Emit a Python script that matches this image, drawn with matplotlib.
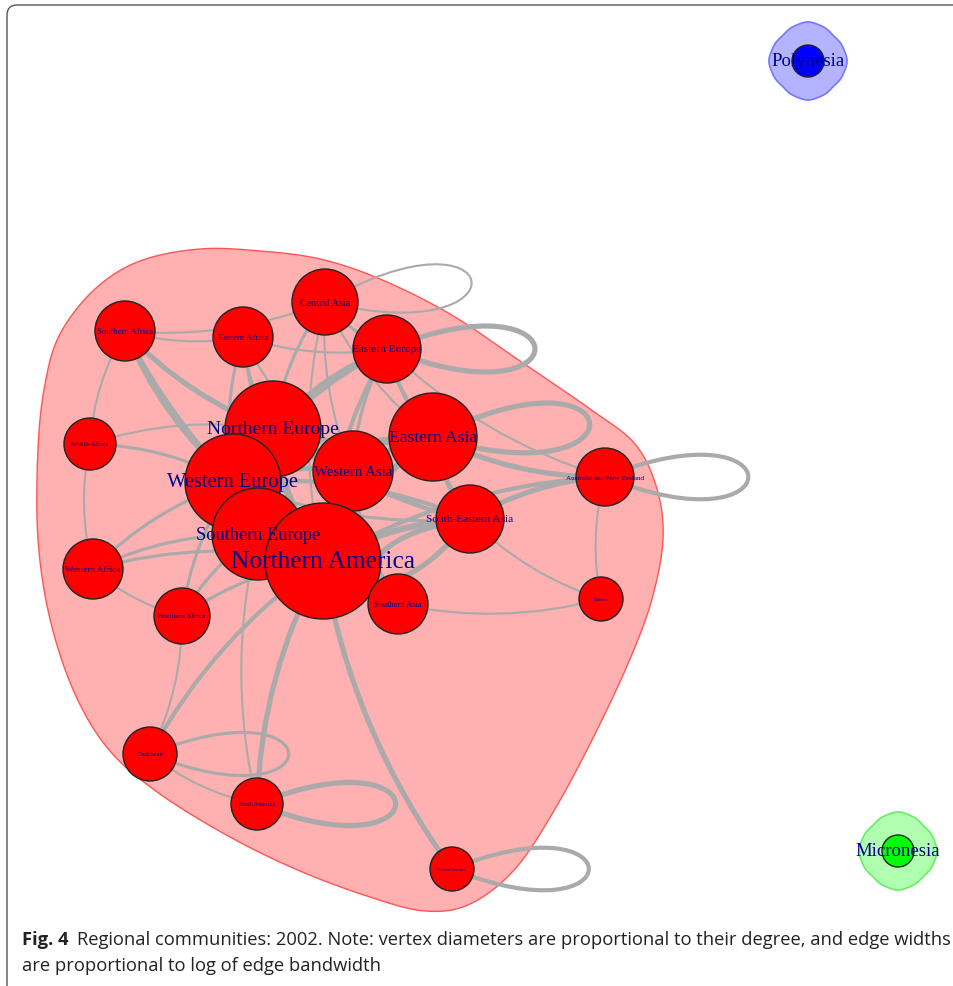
import numpy as np
import matplotlib
matplotlib.use("Agg")
import matplotlib.pyplot as plt
from matplotlib.patches import Circle, PathPatch, Polygon, FancyBboxPatch
from matplotlib.path import Path

# --- network data (layout in picture pixels) ---
names = ["Central Asia", "Southern Africa", "Eastern Africa", "Eastern Europe",
         "Northern Europe", "Eastern Asia", "Middle Africa", "Western Asia",
         "Western Europe", "Australia and New Zealand", "South-Eastern Asia",
         "Southern Europe", "Northern America", "Western Africa", "Northern Africa",
         "Southern Asia", "Melanesia", "Caribbean", "South America", "Central America",
         "Polynesia", "Micronesia"]
node_x = [325, 125, 243, 387, 273, 433, 90, 353, 233, 605, 470, 258, 323, 93, 182,
          398, 601, 150, 257, 452, 808, 898]
node_y = [303, 332, 338, 350, 430, 438, 445, 472, 483, 478, 520, 535, 562, 570, 617,
          605, 600, 755, 805, 870, 62, 852]
node_r = [33, 30, 30, 34, 48, 44, 26, 40, 48, 29, 34, 46, 58, 30, 28, 30, 22, 27, 26, 22, 16, 16]
label_size = [7.2, 6.3, 6.3, 8.1, 14, 12.6, 4.7, 10.7, 14.8, 5.1, 8.2, 13.2, 18.3, 6.6, 5.3,
              6, 2.5, 4.7, 4.3, 3.1, 13.5, 13.5]
community = [0] * 20 + [1, 2]

edge_src = ["Southern Africa", "Southern Africa", "Southern Africa", "Southern Africa",
            "Southern Africa", "Southern Africa",
            "Eastern Africa", "Eastern Africa", "Eastern Africa", "Eastern Africa", "Eastern Africa",
            "Central Asia", "Central Asia", "Central Asia", "Central Asia", "Central Asia",
            "Eastern Europe", "Eastern Europe", "Eastern Europe", "Eastern Europe",
            "Eastern Europe", "Eastern Europe",
            "Northern Europe", "Northern Europe", "Northern Europe", "Northern Europe",
            "Northern Europe", "Northern Europe", "Northern Europe",
            "Eastern Asia", "Eastern Asia", "Eastern Asia", "Eastern Asia", "Eastern Asia",
            "Western Asia", "Western Asia", "Western Asia", "Western Asia",
            "Australia and New Zealand", "Australia and New Zealand", "Australia and New Zealand",
            "South-Eastern Asia", "South-Eastern Asia", "South-Eastern Asia",
            "Southern Asia", "Southern Asia",
            "Western Europe", "Western Europe", "Western Europe", "Western Europe",
            "Western Europe", "Western Europe",
            "Southern Europe", "Southern Europe", "Southern Europe", "Southern Europe",
            "Northern America", "Northern America", "Northern America", "Northern America",
            "Northern America", "Northern America",
            "Caribbean", "Caribbean", "Middle Africa", "Western Africa",
            "Central Asia", "Eastern Europe", "Eastern Asia", "Australia and New Zealand",
            "South-Eastern Asia", "Caribbean", "South America", "Central America"]
edge_dst = ["Eastern Africa", "Central Asia", "Northern Europe", "Western Europe",
            "Middle Africa", "Northern America",
            "Northern Europe", "Western Europe", "Northern America", "Western Asia", "Eastern Europe",
            "Northern Europe", "Eastern Europe", "Western Asia", "Northern America", "Eastern Asia",
            "Northern Europe", "Western Europe", "Eastern Asia", "Western Asia",
            "Northern America", "Australia and New Zealand",
            "Western Europe", "Northern America", "Eastern Asia", "Western Asia",
            "Southern Europe", "Middle Africa", "South-Eastern Asia",
            "Northern America", "South-Eastern Asia", "Australia and New Zealand", "Western Asia",
            "Western Europe",
            "Northern America", "Western Europe", "Southern Asia", "South-Eastern Asia",
            "South-Eastern Asia", "Melanesia", "Northern America",
            "Northern America", "Melanesia", "Western Europe",
            "Melanesia", "Northern America",
            "Middle Africa", "Western Africa", "Northern Africa", "Northern America",
            "Southern Europe", "South-Eastern Asia",
            "Northern Africa", "Western Africa", "South America", "Northern America",
            "Caribbean", "South America", "Central America", "Western Africa",
            "Northern Africa", "Southern Asia",
            "South America", "Northern Africa", "Western Africa", "Northern Africa",
            "Central Asia", "Eastern Europe", "Eastern Asia", "Australia and New Zealand",
            "South-Eastern Asia", "Caribbean", "South America", "Central America"]
edge_w = [2, 2, 5, 4, 2, 4,
          3, 3, 3, 2, 2,
          3, 3, 2, 2, 2,
          5, 4, 4, 3, 4, 2,
          5, 6, 5, 5, 5, 2, 3,
          6, 5, 5, 4, 4,
          5, 5, 3, 4,
          5, 2, 4,
          6, 2, 4,
          2, 4,
          3, 3, 3, 6, 5, 3,
          3, 3, 2, 5,
          4, 5, 5, 3, 3, 4,
          2, 2, 2, 2,
          2, 5, 5, 4, 5, 3, 5, 4]
# self-loops: direction (deg, 0 = right, positive = up in picture) and reach in px
loop_dir = {"Central Asia": 8, "Eastern Europe": 0, "Eastern Asia": 5,
            "Australia and New Zealand": 0, "South-Eastern Asia": -150,
            "Caribbean": 0, "South America": 0, "Central America": 0}
loop_len = {"Central Asia": 160, "Eastern Europe": 160, "Eastern Asia": 170,
            "Australia and New Zealand": 155, "South-Eastern Asia": 120,
            "Caribbean": 150, "South America": 150, "Central America": 148}

hull_x = [60, 95, 140, 200, 260, 320, 380, 450, 520, 590, 635, 657, 663, 652, 630,
          595, 555, 515, 470, 425, 370, 300, 230, 160, 110, 75, 50, 38, 38, 45]
hull_y = [335, 290, 262, 250, 252, 260, 280, 315, 362, 410, 445, 490, 540, 600, 660,
          735, 810, 870, 905, 912, 898, 872, 838, 795, 752, 695, 620, 540, 450, 385]

caption1 = "Regional communities: 2002. Note: vertex diameters are proportional to their degree, and edge widths"
caption2 = "are proportional to log of edge bandwidth"


def catmull_closed(px, py, n=20):
    px = np.asarray(px, float)
    py = np.asarray(py, float)
    m = len(px)
    out = []
    for i in range(m):
        p0 = np.array([px[i - 1], py[i - 1]])
        p1 = np.array([px[i], py[i]])
        p2 = np.array([px[(i + 1) % m], py[(i + 1) % m]])
        p3 = np.array([px[(i + 2) % m], py[(i + 2) % m]])
        for t in np.linspace(0, 1, n, endpoint=False):
            t2, t3 = t * t, t * t * t
            out.append(0.5 * ((2 * p1) + (-p0 + p2) * t + (2 * p0 - 5 * p1 + 4 * p2 - p3) * t2
                              + (-p0 + 3 * p1 - 3 * p2 + p3) * t3))
    return np.array(out)


W, H = 954, 987
fig = plt.figure(figsize=(W / 100, H / 100), dpi=100)
ax = fig.add_axes([0, 0, 1, 1])
ax.set_xlim(0, W)
ax.set_ylim(H, 0)
ax.axis("off")

pos = {n: (x, y) for n, x, y in zip(names, node_x, node_y)}

# frame
frame = FancyBboxPatch((7, 6), 1000, 1050, boxstyle="round,pad=0,rounding_size=10",
                       facecolor="none", edgecolor="#555555", linewidth=1.0, zorder=0)
ax.add_patch(frame)

# community hull
hull = catmull_closed(hull_x, hull_y)
ax.add_patch(Polygon(hull, closed=True, facecolor="#ffb0b0", edgecolor="#ff5555",
                     linewidth=1.0, zorder=1))

# single-vertex community blobs
blob_col = {1: ("#b3b3ff", "#7777ff", "#0000ff"), 2: ("#b0ffb0", "#66ee66", "#00ff00")}
th = np.linspace(0, 2 * np.pi, 200)
for n, c in zip(names, community):
    if c == 0:
        continue
    x, y = pos[n]
    r = 37.5 + 1.3 * np.cos(4 * th) + 0.25 * np.cos(12 * th)
    ax.add_patch(Polygon(np.c_[x + r * np.cos(th), y + r * np.sin(th)], closed=True,
                         facecolor=blob_col[c][0], edgecolor=blob_col[c][1],
                         linewidth=1.2, zorder=1))

# edges
ecol = "#aaaaaa"
for s, d, w in zip(edge_src, edge_dst, edge_w):
    x0, y0 = pos[s]
    if s == d:
        ang = np.deg2rad(loop_dir[s])
        L = loop_len[s] * 1.33
        spread = np.deg2rad(22)
        c1 = (x0 + L * np.cos(ang + spread), y0 - L * np.sin(ang + spread))
        c2 = (x0 + L * np.cos(ang - spread), y0 - L * np.sin(ang - spread))
        path = Path([(x0, y0), c1, c2, (x0, y0)],
                    [Path.MOVETO, Path.CURVE4, Path.CURVE4, Path.CURVE4])
    else:
        x1, y1 = pos[d]
        mx, my = (x0 + x1) / 2, (y0 + y1) / 2
        dx, dy = x1 - x0, y1 - y0
        cx, cy = mx - 0.12 * dy, my + 0.12 * dx
        path = Path([(x0, y0), (cx, cy), (x1, y1)], [Path.MOVETO, Path.CURVE3, Path.CURVE3])
    ax.add_patch(PathPatch(path, facecolor="none", edgecolor=ecol, linewidth=w * 0.75,
                           capstyle="round", zorder=2))

# vertices and labels
node_col = {0: "#ff0000", 1: "#0000ff", 2: "#00ff00"}
for n, x, y, r, c in zip(names, node_x, node_y, node_r, community):
    ax.add_patch(Circle((x, y), r, facecolor=node_col[c], edgecolor="#222222",
                        linewidth=1.0, zorder=3))
for n, x, y, fs in zip(names, node_x, node_y, label_size):
    ax.text(x, y, n, fontsize=fs, family="Liberation Serif", color="#00008b",
            ha="center", va="center", zorder=4)

# caption: fit the first line between x=22 and x=952
fig.canvas.draw()
rend = fig.canvas.get_renderer()
fs_cap = 12.0
t_b = ax.text(22, 940, "Fig. 4", fontsize=fs_cap, family="Open Sans", weight="bold",
              color="#222222", va="center", ha="left", zorder=5)
t1 = ax.text(0, 940, caption1, fontsize=fs_cap, family="Open Sans",
             color="#222222", va="center", ha="left", zorder=5)
for _ in range(3):
    w_b = t_b.get_window_extent(rend).width
    w_1 = t1.get_window_extent(rend).width
    fs_cap = fs_cap * (952 - 22 - 9) / (w_b + w_1)
    t_b.set_fontsize(fs_cap)
    t1.set_fontsize(fs_cap)
t1.set_x(22 + t_b.get_window_extent(rend).width + 9)
ax.text(22, 966, caption2, fontsize=fs_cap, family="Open Sans",
        color="#222222", va="center", ha="left", zorder=5)

fig.savefig("out.png", dpi=100)
